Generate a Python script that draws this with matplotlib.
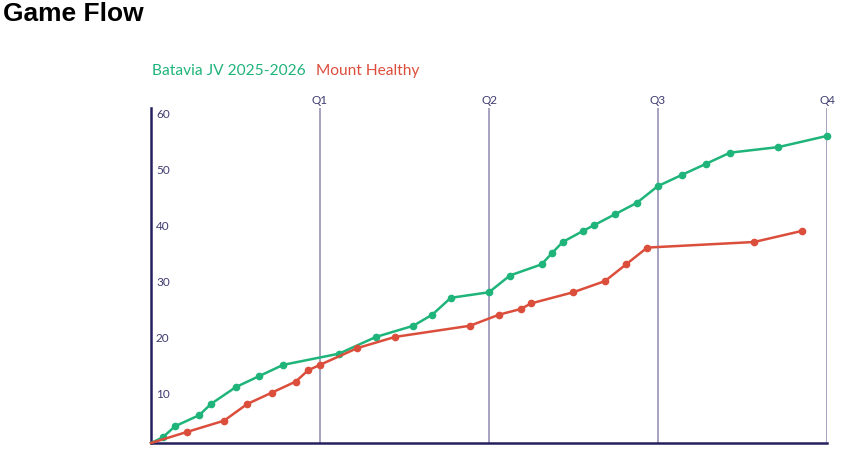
import matplotlib
matplotlib.use("Agg")
import matplotlib.pyplot as plt

# Game clock in minutes (4 quarters x 8 min) and running score
green_t = [0, 0.55, 1.14, 2.29, 2.84, 4.01, 5.13, 6.26, 8.9, 10.65, 12.42, 13.32, 14.19,
           16.0, 16.99, 18.49, 18.98, 19.49, 20.46, 20.97, 21.98, 22.99, 23.99, 25.12,
           26.27, 27.41, 29.7, 32.0]
green_pts = [0, 1, 3, 5, 7, 10, 12, 14, 16, 19, 21, 23, 26, 27, 30, 32, 34, 36, 38, 39,
             41, 43, 46, 48, 50, 52, 53, 55]

red_t = [0, 1.72, 3.46, 4.56, 5.71, 6.85, 7.43, 8.0, 9.77, 11.55, 15.1, 16.49, 17.5,
         17.99, 19.99, 21.49, 22.49, 23.49, 28.55, 30.83]
red_pts = [0, 2, 4, 7, 9, 11, 13, 14, 17, 19, 21, 23, 24, 25, 27, 29, 32, 35, 36, 38]

quarters = ["Q1", "Q2", "Q3", "Q4"]
quarter_end = [8, 16, 24, 32]
y_ticks = [10, 20, 30, 40, 50, 60]

team_a = "Batavia JV 2025-2026"
team_b = "Mount Healthy"
green = "#1fb47a"
red = "#dc4e3c"
navy = "#24205e"
label_col = "#3f3c6e"

plt.rcParams['font.family'] = ['Lato', 'DejaVu Sans']

fig = plt.figure(figsize=(8.68, 4.57), dpi=100)
ax = fig.add_axes([151 / 868, 1 - 443 / 457, 676 / 868, 335 / 457])
ax.set_xlim(0, 32)
ax.set_ylim(0, 60)

# quarter markers
for q, t in zip(quarters, quarter_end):
    ax.axvline(t, color="#8e8ab0", lw=1.1, zorder=1)
    ax.annotate(q, xy=(t, 1), xycoords=("data", "axes fraction"), xytext=(0, 8),
                textcoords="offset pixels", ha="center", va="center",
                fontsize=8.5, color=label_col)

ax.plot(green_t, green_pts, color=green, lw=1.8, marker="o", ms=4.5, zorder=3,
        markevery=range(1, len(green_t)), clip_on=False)
ax.plot(red_t, red_pts, color=red, lw=1.8, marker="o", ms=4.5, zorder=3,
        markevery=range(1, len(red_t)), clip_on=False)

# y labels sit inside the axis, just under their value
for v in y_ticks:
    ax.annotate(str(v), xy=(0, v), xycoords=("axes fraction", "data"), xytext=(5, -7),
                textcoords="offset pixels", ha="left", va="center",
                fontsize=8.5, color=label_col)

for s in ["top", "right"]:
    ax.spines[s].set_visible(False)
for s in ["left", "bottom"]:
    ax.spines[s].set_color(navy)
    ax.spines[s].set_linewidth(1.8)
ax.set_xticks([])
ax.set_yticks([])

fig.text(3 / 868, 1 - 14 / 457, "Game Flow", fontsize=19, fontweight="bold",
         family="Liberation Sans", va="center", ha="left")
fig.text(152 / 868, 1 - 71 / 457, team_a, fontsize=11.2, color=green, va="center")
fig.text(316 / 868, 1 - 71 / 457, team_b, fontsize=11.2, color=red, va="center")

fig.savefig("out.png", dpi=100)
